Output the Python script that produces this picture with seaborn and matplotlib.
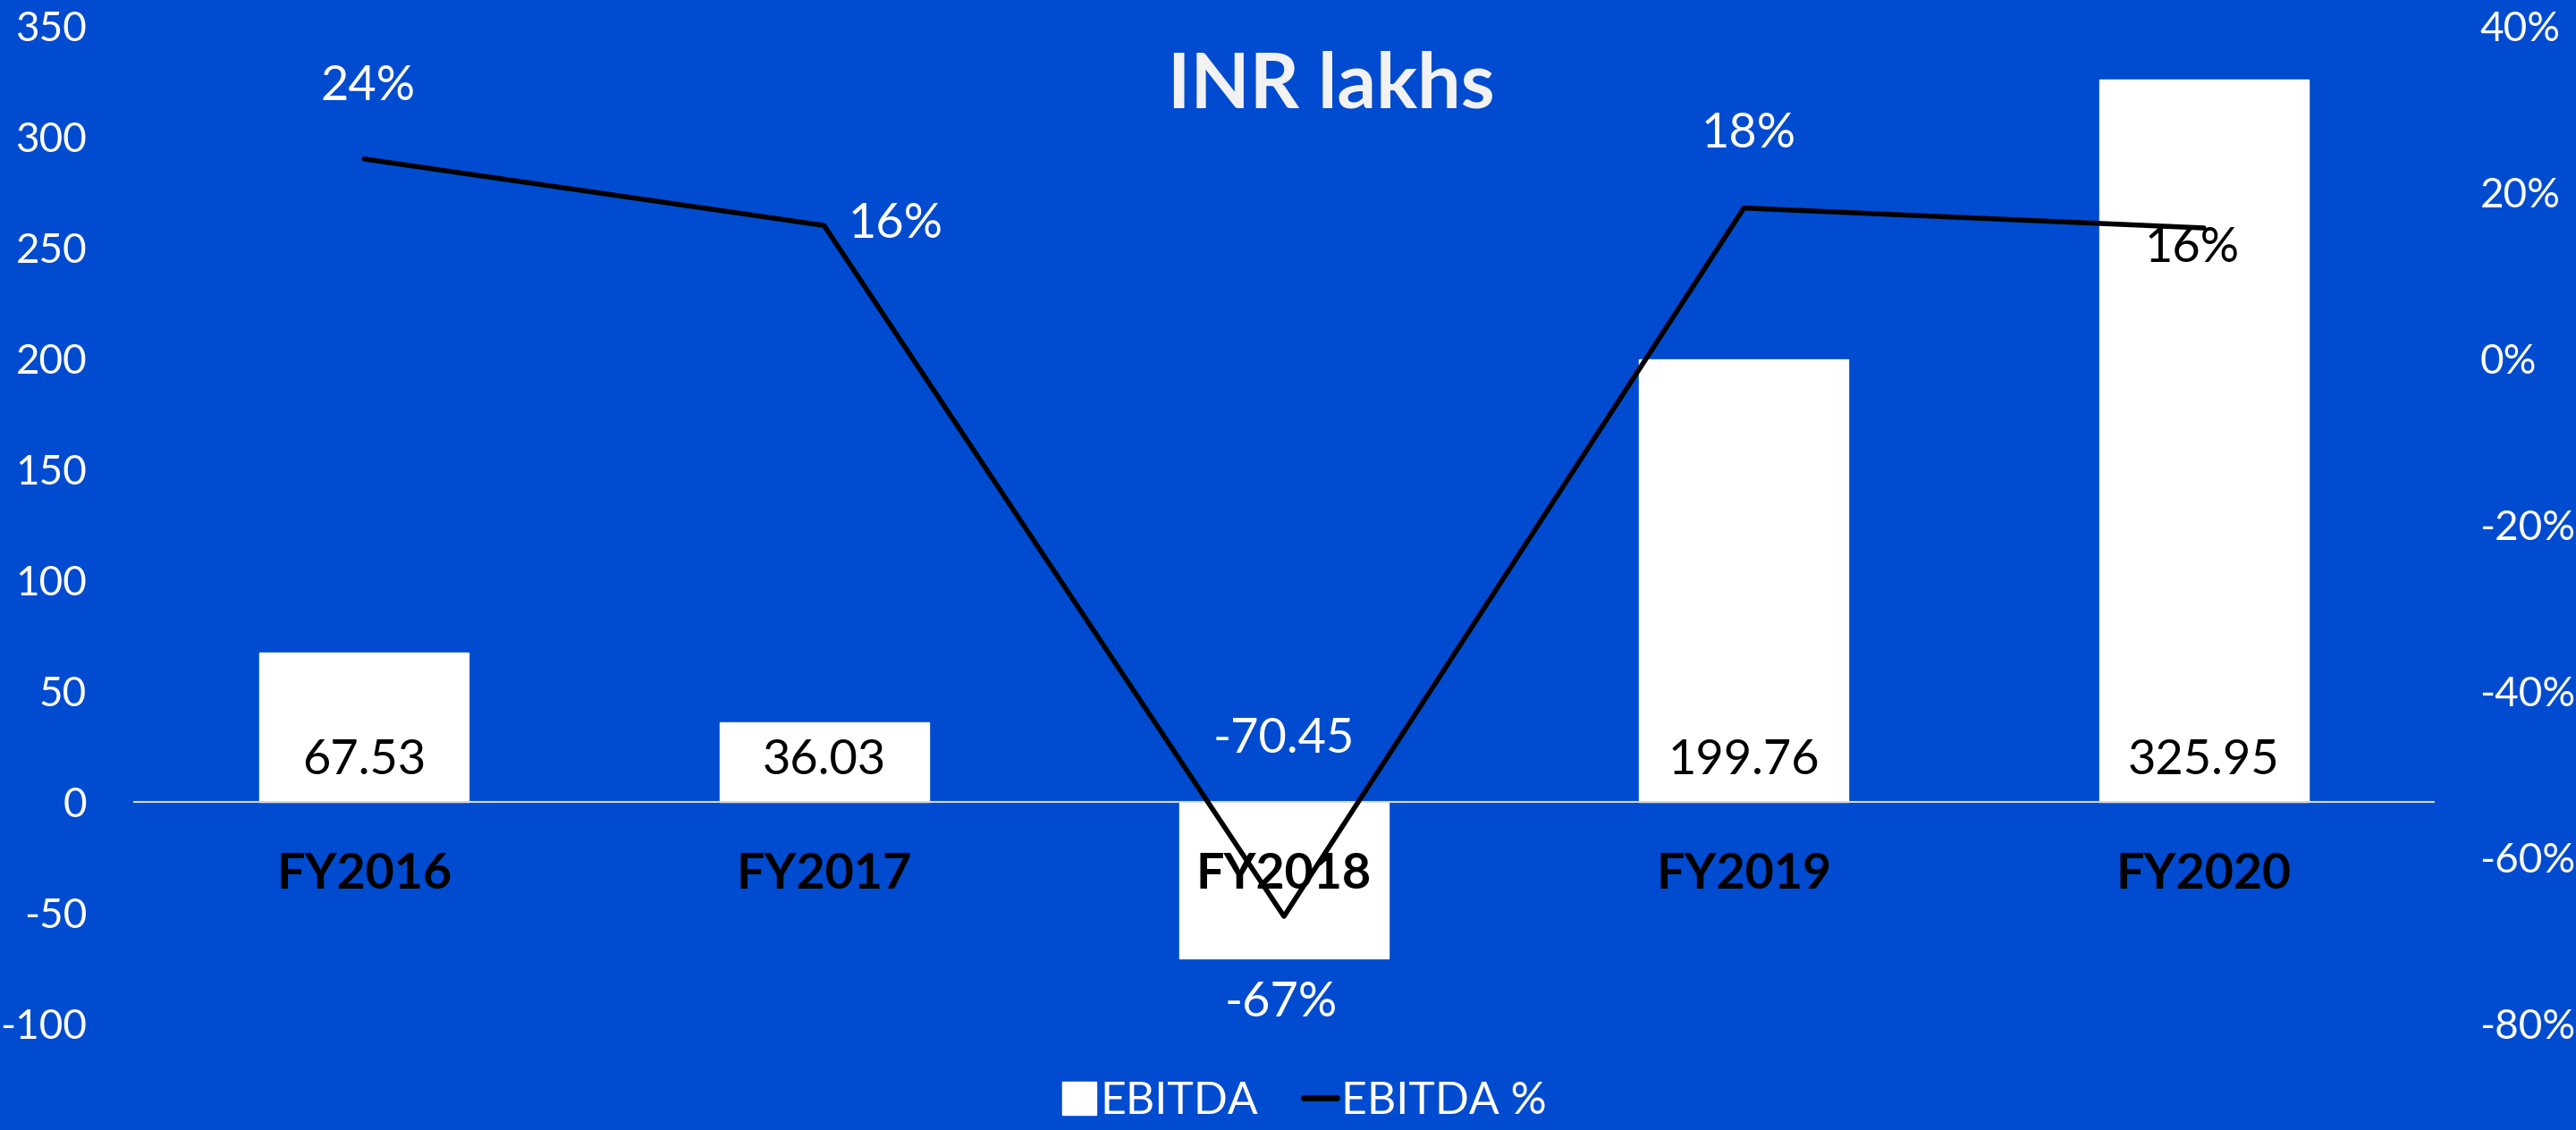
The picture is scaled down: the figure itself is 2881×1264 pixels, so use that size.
import matplotlib
matplotlib.use("Agg")
import matplotlib.pyplot as plt
import seaborn as sns
import pandas as pd
from matplotlib.patches import Patch
from matplotlib.lines import Line2D
from matplotlib.ticker import PercentFormatter

years = ["FY2016", "FY2017", "FY2018", "FY2019", "FY2020"]
ebitda = [67.53, 36.03, -70.45, 199.76, 325.95]
ebitda_pct = [0.24, 0.16, -0.671, 0.181, 0.157]
pct_labels = ["24%", "16%", "-67%", "18%", "16%"]
left_ticks = [-100, -50, 0, 50, 100, 150, 200, 250, 300, 350]
right_ticks = [-0.8, -0.6, -0.4, -0.2, 0.0, 0.2, 0.4]

BG = "#004BCF"

sns.set_style("white")
plt.rcParams["font.family"] = ["Lato", "DejaVu Sans"]
plt.rcParams["axes.unicode_minus"] = False

df = pd.DataFrame({"year": years, "ebitda": ebitda, "pct": ebitda_pct})

fig = plt.figure(figsize=(28.81, 12.64), dpi=100, facecolor=BG)
ax = fig.add_axes([150 / 2881, 1 - 1145 / 1264, (2722 - 150) / 2881, (1145 - 29) / 1264])
ax.set_facecolor(BG)

# bars
sns.barplot(data=df, x="year", y="ebitda", color="white", saturation=1,
            width=0.455, ax=ax, zorder=2)
ax.set_ylim(-100, 350)
ax.set_yticks(left_ticks)
ax.set_xlim(-0.5, 4.5)
ax.set_xlabel("")
ax.set_ylabel("")
ax.set_axisbelow(False)
for s in ["top", "right", "left"]:
    ax.spines[s].set_visible(False)
ax.spines["bottom"].set_position(("data", 0))
ax.spines["bottom"].set_color("#D9D9D9")
ax.spines["bottom"].set_linewidth(1.5)
ax.tick_params(axis="y", length=0, pad=38, labelsize=33, labelcolor="white")
ax.tick_params(axis="x", length=0, pad=40, labelsize=40, labelcolor="black")
for t in ax.get_xticklabels():
    t.set_fontweight("bold")

# value labels on bars
for i, v in enumerate(ebitda):
    if v >= 0:
        ax.annotate(f"{v:.2f}", (i, 0), xytext=(0, 46), textcoords="offset pixels",
                    ha="center", va="center", fontsize=39, color="black", zorder=4)
    else:
        ax.annotate(f"{v:.2f}", (i, 0), xytext=(0, 70), textcoords="offset pixels",
                    ha="center", va="center", fontsize=39, color="white", zorder=4)

# line on secondary axis
ax2 = ax.twinx()
sns.pointplot(data=df, x="year", y="pct", color="black", markers="",
              errorbar=None, ax=ax2)
for ln in ax2.lines:
    ln.set_linewidth(4)
    ln.set_solid_joinstyle("round")
    ln.set_solid_capstyle("round")
ax2.set_ylim(-0.8, 0.4)
ax2.set_yticks(right_ticks)
ax2.yaxis.set_major_formatter(PercentFormatter(1.0, decimals=0))
ax2.set_xlim(-0.5, 4.5)
ax2.set_xlabel("")
ax2.set_ylabel("")
for s in ax2.spines.values():
    s.set_visible(False)
ax2.tick_params(axis="y", length=0, pad=37, labelsize=33, labelcolor="white")
ax2.tick_params(axis="x", length=0)

offsets = [(4, 81, "center"), (27, 2, "left"), (-3, -96, "center"), (5, 83, "center"), (-13, -23, "center")]
colors = ["white", "white", "white", "white", "black"]
for i, (p, lab) in enumerate(zip(ebitda_pct, pct_labels)):
    dx, dy, ha = offsets[i]
    ax2.annotate(lab, (i, p), xytext=(dx, dy), textcoords="offset pixels",
                 ha=ha, va="center", fontsize=39, color=colors[i])

fig.text(1489 / 2881, 1 - 96 / 1264, "INR lakhs", ha="center", va="center",
         fontsize=62, fontweight="bold", color="#F2F2F2")

handles = [Patch(facecolor="white", edgecolor="white", label="EBITDA"),
           Line2D([0], [0], color="black", lw=5, solid_capstyle="round", label="EBITDA %")]
fig.legend(handles=handles, loc="center", bbox_to_anchor=(1459 / 2881, 1 - 1232 / 1264),
           ncol=2, frameon=False, fontsize=36, labelcolor="white",
           handlelength=0.75, handleheight=0.75, handletextpad=0.1, columnspacing=1.0)

fig.savefig("out.png", dpi=100, facecolor=BG)
